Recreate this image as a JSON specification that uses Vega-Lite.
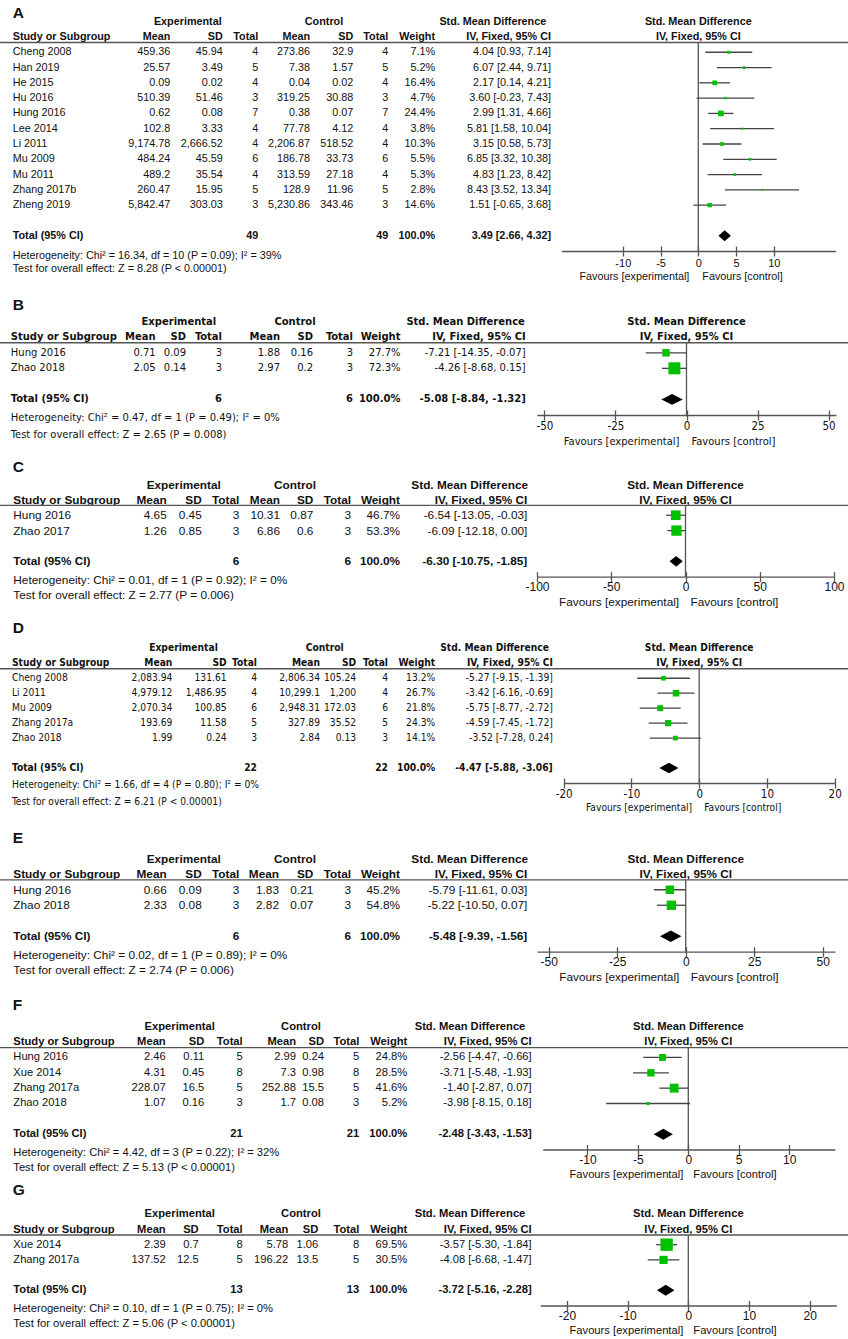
{
"$schema":"https://vega.github.io/schema/vega-lite/v6.json",
"width":848,"height":1339,"autosize":{"type":"none"},"padding":0,"background":"white",
"config":{"view":{"stroke":null},"text":{"baseline":"middle","align":"right","color":"#111"},
"style":{"tA":{"font":"Liberation Sans","fontSize":10.8},"tB":{"font":"DejaVu Sans Condensed, Liberation Sans Narrow, Liberation Sans","fontSize":11.1},"tD":{"font":"DejaVu Sans Condensed, Liberation Sans Narrow, Liberation Sans","fontSize":10.2},"tC":{"font":"Liberation Sans","fontSize":11.8},"tF":{"font":"Liberation Sans","fontSize":11.2},"let":{"font":"Liberation Sans","fontSize":15.5,"fontWeight":"bold"}}},
"datasets":{"rows":[
{"k":"head","r":"hdr2","s":"Study or Subgroup","em":"Mean","esd":"SD","et":"Total","cm":"Mean","csd":"SD","ct":"Total","w":"Weight","ci":"IV, Fixed, 95% CI","g1":"Experimental","g2":"Control","g3":"Std. Mean Difference","fe":"Favours [experimental]","fc":"Favours [control]"},
{"p":"A","k":"study","r":"Cheng 2008","s":"Cheng 2008","em":"459.36","esd":"45.94","et":"4","cm":"273.86","csd":"32.9","ct":"4","w":"7.1%","ci":"4.04 [0.93, 7.14]","smd":4.04,"lo":0.93,"hi":7.14,"wt":7.1},
{"p":"A","k":"study","r":"Han 2019","s":"Han 2019","em":"25.57","esd":"3.49","et":"5","cm":"7.38","csd":"1.57","ct":"5","w":"5.2%","ci":"6.07 [2.44, 9.71]","smd":6.07,"lo":2.44,"hi":9.71,"wt":5.2},
{"p":"A","k":"study","r":"He 2015","s":"He 2015","em":"0.09","esd":"0.02","et":"4","cm":"0.04","csd":"0.02","ct":"4","w":"16.4%","ci":"2.17 [0.14, 4.21]","smd":2.17,"lo":0.14,"hi":4.21,"wt":16.4},
{"p":"A","k":"study","r":"Hu 2016","s":"Hu 2016","em":"510.39","esd":"51.46","et":"3","cm":"319.25","csd":"30.88","ct":"3","w":"4.7%","ci":"3.60 [-0.23, 7.43]","smd":3.6,"lo":-0.23,"hi":7.43,"wt":4.7},
{"p":"A","k":"study","r":"Hung 2016","s":"Hung 2016","em":"0.62","esd":"0.08","et":"7","cm":"0.38","csd":"0.07","ct":"7","w":"24.4%","ci":"2.99 [1.31, 4.66]","smd":2.99,"lo":1.31,"hi":4.66,"wt":24.4},
{"p":"A","k":"study","r":"Lee 2014","s":"Lee 2014","em":"102.8","esd":"3.33","et":"4","cm":"77.78","csd":"4.12","ct":"4","w":"3.8%","ci":"5.81 [1.58, 10.04]","smd":5.81,"lo":1.58,"hi":10.04,"wt":3.8},
{"p":"A","k":"study","r":"Li 2011","s":"Li 2011","em":"9,174.78","esd":"2,666.52","et":"4","cm":"2,206.87","csd":"518.52","ct":"4","w":"10.3%","ci":"3.15 [0.58, 5.73]","smd":3.15,"lo":0.58,"hi":5.73,"wt":10.3},
{"p":"A","k":"study","r":"Mu 2009","s":"Mu 2009","em":"484.24","esd":"45.59","et":"6","cm":"186.78","csd":"33.73","ct":"6","w":"5.5%","ci":"6.85 [3.32, 10.38]","smd":6.85,"lo":3.32,"hi":10.38,"wt":5.5},
{"p":"A","k":"study","r":"Mu 2011","s":"Mu 2011","em":"489.2","esd":"35.54","et":"4","cm":"313.59","csd":"27.18","ct":"4","w":"5.3%","ci":"4.83 [1.23, 8.42]","smd":4.83,"lo":1.23,"hi":8.42,"wt":5.3},
{"p":"A","k":"study","r":"Zhang 2017b","s":"Zhang 2017b","em":"260.47","esd":"15.95","et":"5","cm":"128.9","csd":"11.96","ct":"5","w":"2.8%","ci":"8.43 [3.52, 13.34]","smd":8.43,"lo":3.52,"hi":13.34,"wt":2.8},
{"p":"A","k":"study","r":"Zheng 2019","s":"Zheng 2019","em":"5,842.47","esd":"303.03","et":"3","cm":"5,230.86","csd":"343.46","ct":"3","w":"14.6%","ci":"1.51 [-0.65, 3.68]","smd":1.51,"lo":-0.65,"hi":3.68,"wt":14.6},
{"p":"A","k":"total","r":"Total","s":"Total (95% CI)","em":"","esd":"","et":"49","cm":"","csd":"","ct":"49","w":"100.0%","ci":"3.49 [2.66, 4.32]","smd":3.49,"lo":2.66,"hi":4.32,"het":"Heterogeneity: Chi² = 16.34, df = 10 (P = 0.09); I² = 39%","test":"Test for overall effect: Z = 8.28 (P < 0.00001)"},
{"p":"B","k":"study","r":"Hung 2016","s":"Hung 2016","em":"0.71","esd":"0.09","et":"3","cm":"1.88","csd":"0.16","ct":"3","w":"27.7%","ci":"-7.21 [-14.35, -0.07]","smd":-7.21,"lo":-14.35,"hi":-0.07,"wt":27.7},
{"p":"B","k":"study","r":"Zhao 2018","s":"Zhao 2018","em":"2.05","esd":"0.14","et":"3","cm":"2.97","csd":"0.2","ct":"3","w":"72.3%","ci":"-4.26 [-8.68, 0.15]","smd":-4.26,"lo":-8.68,"hi":0.15,"wt":72.3},
{"p":"B","k":"total","r":"Total","s":"Total (95% CI)","em":"","esd":"","et":"6","cm":"","csd":"","ct":"6","w":"100.0%","ci":"-5.08 [-8.84, -1.32]","smd":-5.08,"lo":-8.84,"hi":-1.32,"het":"Heterogeneity: Chi² = 0.47, df = 1 (P = 0.49); I² = 0%","test":"Test for overall effect: Z = 2.65 (P = 0.008)"},
{"p":"C","k":"study","r":"Hung 2016","s":"Hung 2016","em":"4.65","esd":"0.45","et":"3","cm":"10.31","csd":"0.87","ct":"3","w":"46.7%","ci":"-6.54 [-13.05, -0.03]","smd":-6.54,"lo":-13.05,"hi":-0.03,"wt":46.7},
{"p":"C","k":"study","r":"Zhao 2017","s":"Zhao 2017","em":"1.26","esd":"0.85","et":"3","cm":"6.86","csd":"0.6","ct":"3","w":"53.3%","ci":"-6.09 [-12.18, 0.00]","smd":-6.09,"lo":-12.18,"hi":0.0,"wt":53.3},
{"p":"C","k":"total","r":"Total","s":"Total (95% CI)","em":"","esd":"","et":"6","cm":"","csd":"","ct":"6","w":"100.0%","ci":"-6.30 [-10.75, -1.85]","smd":-6.3,"lo":-10.75,"hi":-1.85,"het":"Heterogeneity: Chi² = 0.01, df = 1 (P = 0.92); I² = 0%","test":"Test for overall effect: Z = 2.77 (P = 0.006)"},
{"p":"D","k":"study","r":"Cheng 2008","s":"Cheng 2008","em":"2,083.94","esd":"131.61","et":"4","cm":"2,806.34","csd":"105.24","ct":"4","w":"13.2%","ci":"-5.27 [-9.15, -1.39]","smd":-5.27,"lo":-9.15,"hi":-1.39,"wt":13.2},
{"p":"D","k":"study","r":"Li 2011","s":"Li 2011","em":"4,979.12","esd":"1,486.95","et":"4","cm":"10,299.1","csd":"1,200","ct":"4","w":"26.7%","ci":"-3.42 [-6.16, -0.69]","smd":-3.42,"lo":-6.16,"hi":-0.69,"wt":26.7},
{"p":"D","k":"study","r":"Mu 2009","s":"Mu 2009","em":"2,070.34","esd":"100.85","et":"6","cm":"2,948.31","csd":"172.03","ct":"6","w":"21.8%","ci":"-5.75 [-8.77, -2.72]","smd":-5.75,"lo":-8.77,"hi":-2.72,"wt":21.8},
{"p":"D","k":"study","r":"Zhang 2017a","s":"Zhang 2017a","em":"193.69","esd":"11.58","et":"5","cm":"327.89","csd":"35.52","ct":"5","w":"24.3%","ci":"-4.59 [-7.45, -1.72]","smd":-4.59,"lo":-7.45,"hi":-1.72,"wt":24.3},
{"p":"D","k":"study","r":"Zhao 2018","s":"Zhao 2018","em":"1.99","esd":"0.24","et":"3","cm":"2.84","csd":"0.13","ct":"3","w":"14.1%","ci":"-3.52 [-7.28, 0.24]","smd":-3.52,"lo":-7.28,"hi":0.24,"wt":14.1},
{"p":"D","k":"total","r":"Total","s":"Total (95% CI)","em":"","esd":"","et":"22","cm":"","csd":"","ct":"22","w":"100.0%","ci":"-4.47 [-5.88, -3.06]","smd":-4.47,"lo":-5.88,"hi":-3.06,"het":"Heterogeneity: Chi² = 1.66, df = 4 (P = 0.80); I² = 0%","test":"Test for overall effect: Z = 6.21 (P < 0.00001)"},
{"p":"E","k":"study","r":"Hung 2016","s":"Hung 2016","em":"0.66","esd":"0.09","et":"3","cm":"1.83","csd":"0.21","ct":"3","w":"45.2%","ci":"-5.79 [-11.61, 0.03]","smd":-5.79,"lo":-11.61,"hi":0.03,"wt":45.2},
{"p":"E","k":"study","r":"Zhao 2018","s":"Zhao 2018","em":"2.33","esd":"0.08","et":"3","cm":"2.82","csd":"0.07","ct":"3","w":"54.8%","ci":"-5.22 [-10.50, 0.07]","smd":-5.22,"lo":-10.5,"hi":0.07,"wt":54.8},
{"p":"E","k":"total","r":"Total","s":"Total (95% CI)","em":"","esd":"","et":"6","cm":"","csd":"","ct":"6","w":"100.0%","ci":"-5.48 [-9.39, -1.56]","smd":-5.48,"lo":-9.39,"hi":-1.56,"het":"Heterogeneity: Chi² = 0.02, df = 1 (P = 0.89); I² = 0%","test":"Test for overall effect: Z = 2.74 (P = 0.006)"},
{"p":"F","k":"study","r":"Hung 2016","s":"Hung 2016","em":"2.46","esd":"0.11","et":"5","cm":"2.99","csd":"0.24","ct":"5","w":"24.8%","ci":"-2.56 [-4.47, -0.66]","smd":-2.56,"lo":-4.47,"hi":-0.66,"wt":24.8},
{"p":"F","k":"study","r":"Xue 2014","s":"Xue 2014","em":"4.31","esd":"0.45","et":"8","cm":"7.3","csd":"0.98","ct":"8","w":"28.5%","ci":"-3.71 [-5.48, -1.93]","smd":-3.71,"lo":-5.48,"hi":-1.93,"wt":28.5},
{"p":"F","k":"study","r":"Zhang 2017a","s":"Zhang 2017a","em":"228.07","esd":"16.5","et":"5","cm":"252.88","csd":"15.5","ct":"5","w":"41.6%","ci":"-1.40 [-2.87, 0.07]","smd":-1.4,"lo":-2.87,"hi":0.07,"wt":41.6},
{"p":"F","k":"study","r":"Zhao 2018","s":"Zhao 2018","em":"1.07","esd":"0.16","et":"3","cm":"1.7","csd":"0.08","ct":"3","w":"5.2%","ci":"-3.98 [-8.15, 0.18]","smd":-3.98,"lo":-8.15,"hi":0.18,"wt":5.2},
{"p":"F","k":"total","r":"Total","s":"Total (95% CI)","em":"","esd":"","et":"21","cm":"","csd":"","ct":"21","w":"100.0%","ci":"-2.48 [-3.43, -1.53]","smd":-2.48,"lo":-3.43,"hi":-1.53,"het":"Heterogeneity: Chi² = 4.42, df = 3 (P = 0.22); I² = 32%","test":"Test for overall effect: Z = 5.13 (P < 0.00001)"},
{"p":"G","k":"study","r":"Xue 2014","s":"Xue 2014","em":"2.39","esd":"0.7","et":"8","cm":"5.78","csd":"1.06","ct":"8","w":"69.5%","ci":"-3.57 [-5.30, -1.84]","smd":-3.57,"lo":-5.3,"hi":-1.84,"wt":69.5},
{"p":"G","k":"study","r":"Zhang 2017a","s":"Zhang 2017a","em":"137.52","esd":"12.5","et":"5","cm":"196.22","csd":"13.5","ct":"5","w":"30.5%","ci":"-4.08 [-6.68, -1.47]","smd":-4.08,"lo":-6.68,"hi":-1.47,"wt":30.5},
{"p":"G","k":"total","r":"Total","s":"Total (95% CI)","em":"","esd":"","et":"13","cm":"","csd":"","ct":"13","w":"100.0%","ci":"-3.72 [-5.16, -2.28]","smd":-3.72,"lo":-5.16,"hi":-2.28,"het":"Heterogeneity: Chi² = 0.10, df = 1 (P = 0.75); I² = 0%","test":"Test for overall effect: Z = 5.06 (P < 0.00001)"}
]},
"layer":[
{"data":{"name":"rows"},"transform":[{"filter":"datum.p=='A'||datum.k=='head'"}],
"encoding":{"y":{"field":"r","type":"nominal","axis":null,"scale":{"type":"point","padding":0,"range":[21.7,251],"domain":["hdr1","hdr2","Cheng 2008","Han 2019","He 2015","Hu 2016","Hung 2016","Lee 2014","Li 2011","Mu 2009","Mu 2011","Zhang 2017b","Zheng 2019","blank","Total","axis"]}}},
"resolve":{"axis":{"x":"independent"}},
"layer":[
{"mark":{"type":"text","style":"tA","align":"left","fontWeight":{"expr":"datum.k=='study'?'normal':'bold'"}},"encoding":{"x":{"value":12.7},"text":{"field":"s"}}},
{"mark":{"type":"text","style":"tA","fontWeight":{"expr":"datum.k=='study'?'normal':'bold'"}},"encoding":{"x":{"value":170.3},"text":{"field":"em"}}},
{"mark":{"type":"text","style":"tA","fontWeight":{"expr":"datum.k=='study'?'normal':'bold'"}},"encoding":{"x":{"value":222.7},"text":{"field":"esd"}}},
{"mark":{"type":"text","style":"tA","fontWeight":{"expr":"datum.k=='study'?'normal':'bold'"}},"encoding":{"x":{"value":258.3},"text":{"field":"et"}}},
{"mark":{"type":"text","style":"tA","fontWeight":{"expr":"datum.k=='study'?'normal':'bold'"}},"encoding":{"x":{"value":310},"text":{"field":"cm"}}},
{"mark":{"type":"text","style":"tA","fontWeight":{"expr":"datum.k=='study'?'normal':'bold'"}},"encoding":{"x":{"value":353.3},"text":{"field":"csd"}}},
{"mark":{"type":"text","style":"tA","fontWeight":{"expr":"datum.k=='study'?'normal':'bold'"}},"encoding":{"x":{"value":388.3},"text":{"field":"ct"}}},
{"mark":{"type":"text","style":"tA","fontWeight":{"expr":"datum.k=='study'?'normal':'bold'"}},"encoding":{"x":{"value":435},"text":{"field":"w"}}},
{"mark":{"type":"text","style":"tA","fontWeight":{"expr":"datum.k=='study'?'normal':'bold'"}},"encoding":{"x":{"value":551},"text":{"field":"ci"}}},
{"transform":[{"filter":"datum.k=='head'"}],"mark":{"type":"text","style":"tA","align":"center","fontWeight":"bold"},"encoding":{"x":{"value":187.8},"y":{"datum":"hdr1","type":"nominal"},"text":{"field":"g1"}}},
{"transform":[{"filter":"datum.k=='head'"}],"mark":{"type":"text","style":"tA","align":"center","fontWeight":"bold"},"encoding":{"x":{"value":324},"y":{"datum":"hdr1","type":"nominal"},"text":{"field":"g2"}}},
{"transform":[{"filter":"datum.k=='head'"}],"mark":{"type":"text","style":"tA","align":"center","fontWeight":"bold"},"encoding":{"x":{"value":492.8},"y":{"datum":"hdr1","type":"nominal"},"text":{"field":"g3"}}},
{"transform":[{"filter":"datum.k=='head'"}],"mark":{"type":"text","style":"tA","align":"center","fontWeight":"bold"},"encoding":{"x":{"datum":0,"type":"quantitative","axis":null},"y":{"datum":"hdr1","type":"nominal"},"text":{"field":"g3"}}},
{"transform":[{"filter":"datum.k=='head'"}],"mark":{"type":"text","style":"tA","align":"center","fontWeight":"bold"},"encoding":{"x":{"datum":0,"type":"quantitative","axis":null},"y":{"datum":"hdr2","type":"nominal"},"text":{"field":"ci"}}},
{"transform":[{"filter":"datum.k=='head'"}],"mark":{"type":"text","style":"tA","align":"right","dx":-9,"dy":25.5},"encoding":{"x":{"datum":0,"type":"quantitative","axis":null},"y":{"datum":"axis","type":"nominal"},"text":{"field":"fe"}}},
{"transform":[{"filter":"datum.k=='head'"}],"mark":{"type":"text","style":"tA","align":"left","dx":4,"dy":25.5},"encoding":{"x":{"datum":0,"type":"quantitative","axis":null},"y":{"datum":"axis","type":"nominal"},"text":{"field":"fc"}}},
{"transform":[{"filter":"datum.k=='total'"}],"mark":{"type":"text","style":"tA","align":"left","dy":4.7},"encoding":{"x":{"value":12.7},"y":{"datum":"axis","type":"nominal"},"text":{"field":"het"}}},
{"transform":[{"filter":"datum.k=='total'"}],"mark":{"type":"text","style":"tA","align":"left","dy":18},"encoding":{"x":{"value":12.7},"y":{"datum":"axis","type":"nominal"},"text":{"field":"test"}}},
{"transform":[{"filter":"datum.k=='total'"}],"mark":{"type":"text","style":"let","align":"left","dy":-8.4},"encoding":{"x":{"value":12.7},"y":{"datum":"hdr1","type":"nominal"},"text":{"field":"p"}}},
{"transform":[{"filter":"datum.k=='total'"}],"mark":{"type":"rule","color":"#555","strokeWidth":1.3,"yOffset":5.5},"encoding":{"y":{"datum":"hdr2","type":"nominal"}}},
{"transform":[{"filter":"datum.k=='total'"}],"mark":{"type":"rule","color":"#555","strokeWidth":1.3,"yOffset":5.5},"encoding":{"x":{"datum":0,"type":"quantitative","axis":null},"y":{"datum":"hdr2","type":"nominal"},"y2":{"datum":"axis"}}},
{"transform":[{"filter":"datum.k=='study'"}],"mark":{"type":"rule","color":"#444","strokeWidth":1.3},"encoding":{"x":{"field":"lo","type":"quantitative","scale":{"domain":[-18.15,18.15],"range":[561.3,835.3],"nice":false,"zero":false},"axis":{"orient":"bottom","offset":-1088,"values":[-10,-5,0,5,10],"title":null,"grid":false,"domainColor":"#555","domainWidth":1.3,"tickColor":"#555","tickWidth":1.3,"tickSize":5,"labelFont":"Liberation Sans","labelFontSize":11,"labelColor":"#111","labelPadding":1,"labelExpr":"''+datum.value","labelFlush":false,"labelOverlap":false}},"x2":{"field":"hi"}}},
{"transform":[{"filter":"datum.k=='study'"}],"mark":{"type":"point","shape":"square","filled":true,"color":"#00c000","opacity":1},"encoding":{"x":{"field":"smd","type":"quantitative","axis":{"orient":"bottom","offset":-1093,"values":[-10,-5,0,5,10],"title":null,"grid":false,"domain":false,"labels":false,"tickColor":"#555","tickWidth":1.3,"tickSize":5}},"size":{"field":"wt","type":"quantitative","legend":null,"scale":{"domain":[0,100],"range":[0,130]}}}},
{"transform":[{"filter":"datum.k=='total'"}],"mark":{"type":"point","shape":"M-1,0L0,-0.88L1,0L0,0.88Z","filled":true,"color":"black","opacity":1,"size":157},"encoding":{"x":{"field":"smd","type":"quantitative","axis":null}}}
]},
{"data":{"name":"rows"},"transform":[{"filter":"datum.p=='B'||datum.k=='head'"}],
"encoding":{"y":{"field":"r","type":"nominal","axis":null,"scale":{"type":"point","padding":0,"range":[321.7,415],"domain":["hdr1","hdr2","Hung 2016","Zhao 2018","blank","Total","axis"]}}},
"resolve":{"axis":{"x":"independent"}},
"layer":[
{"mark":{"type":"text","style":"tB","align":"left","fontWeight":{"expr":"datum.k=='study'?'normal':'bold'"}},"encoding":{"x":{"value":10.8},"text":{"field":"s"}}},
{"mark":{"type":"text","style":"tB","fontWeight":{"expr":"datum.k=='study'?'normal':'bold'"}},"encoding":{"x":{"value":155.6},"text":{"field":"em"}}},
{"mark":{"type":"text","style":"tB","fontWeight":{"expr":"datum.k=='study'?'normal':'bold'"}},"encoding":{"x":{"value":186},"text":{"field":"esd"}}},
{"mark":{"type":"text","style":"tB","fontWeight":{"expr":"datum.k=='study'?'normal':'bold'"}},"encoding":{"x":{"value":222},"text":{"field":"et"}}},
{"mark":{"type":"text","style":"tB","fontWeight":{"expr":"datum.k=='study'?'normal':'bold'"}},"encoding":{"x":{"value":280},"text":{"field":"cm"}}},
{"mark":{"type":"text","style":"tB","fontWeight":{"expr":"datum.k=='study'?'normal':'bold'"}},"encoding":{"x":{"value":313},"text":{"field":"csd"}}},
{"mark":{"type":"text","style":"tB","fontWeight":{"expr":"datum.k=='study'?'normal':'bold'"}},"encoding":{"x":{"value":353},"text":{"field":"ct"}}},
{"mark":{"type":"text","style":"tB","fontWeight":{"expr":"datum.k=='study'?'normal':'bold'"}},"encoding":{"x":{"value":400.5},"text":{"field":"w"}}},
{"mark":{"type":"text","style":"tB","fontWeight":{"expr":"datum.k=='study'?'normal':'bold'"}},"encoding":{"x":{"value":525.7},"text":{"field":"ci"}}},
{"transform":[{"filter":"datum.k=='head'"}],"mark":{"type":"text","style":"tB","align":"center","fontWeight":"bold"},"encoding":{"x":{"value":178.9},"y":{"datum":"hdr1","type":"nominal"},"text":{"field":"g1"}}},
{"transform":[{"filter":"datum.k=='head'"}],"mark":{"type":"text","style":"tB","align":"center","fontWeight":"bold"},"encoding":{"x":{"value":295},"y":{"datum":"hdr1","type":"nominal"},"text":{"field":"g2"}}},
{"transform":[{"filter":"datum.k=='head'"}],"mark":{"type":"text","style":"tB","align":"center","fontWeight":"bold"},"encoding":{"x":{"value":465.6},"y":{"datum":"hdr1","type":"nominal"},"text":{"field":"g3"}}},
{"transform":[{"filter":"datum.k=='head'"}],"mark":{"type":"text","style":"tB","align":"center","fontWeight":"bold"},"encoding":{"x":{"datum":0,"type":"quantitative","axis":null},"y":{"datum":"hdr1","type":"nominal"},"text":{"field":"g3"}}},
{"transform":[{"filter":"datum.k=='head'"}],"mark":{"type":"text","style":"tB","align":"center","fontWeight":"bold"},"encoding":{"x":{"datum":0,"type":"quantitative","axis":null},"y":{"datum":"hdr2","type":"nominal"},"text":{"field":"ci"}}},
{"transform":[{"filter":"datum.k=='head'"}],"mark":{"type":"text","style":"tB","align":"right","dx":-7,"dy":26.5},"encoding":{"x":{"datum":0,"type":"quantitative","axis":null},"y":{"datum":"axis","type":"nominal"},"text":{"field":"fe"}}},
{"transform":[{"filter":"datum.k=='head'"}],"mark":{"type":"text","style":"tB","align":"left","dx":5,"dy":26.5},"encoding":{"x":{"datum":0,"type":"quantitative","axis":null},"y":{"datum":"axis","type":"nominal"},"text":{"field":"fc"}}},
{"transform":[{"filter":"datum.k=='total'"}],"mark":{"type":"text","style":"tB","align":"left","dy":3.3},"encoding":{"x":{"value":10.8},"y":{"datum":"axis","type":"nominal"},"text":{"field":"het"}}},
{"transform":[{"filter":"datum.k=='total'"}],"mark":{"type":"text","style":"tB","align":"left","dy":19.5},"encoding":{"x":{"value":10.8},"y":{"datum":"axis","type":"nominal"},"text":{"field":"test"}}},
{"transform":[{"filter":"datum.k=='total'"}],"mark":{"type":"text","style":"let","align":"left","dy":-16.7},"encoding":{"x":{"value":12.7},"y":{"datum":"hdr1","type":"nominal"},"text":{"field":"p"}}},
{"transform":[{"filter":"datum.k=='total'"}],"mark":{"type":"rule","color":"#555","strokeWidth":1.3,"yOffset":5.5},"encoding":{"y":{"datum":"hdr2","type":"nominal"}}},
{"transform":[{"filter":"datum.k=='total'"}],"mark":{"type":"rule","color":"#555","strokeWidth":1.3,"yOffset":5.5},"encoding":{"x":{"datum":0,"type":"quantitative","axis":null},"y":{"datum":"hdr2","type":"nominal"},"y2":{"datum":"axis"}}},
{"transform":[{"filter":"datum.k=='study'"}],"mark":{"type":"rule","color":"#444","strokeWidth":1.3},"encoding":{"x":{"field":"lo","type":"quantitative","scale":{"domain":[-52.6,52.6],"range":[537,836],"nice":false,"zero":false},"axis":{"orient":"bottom","offset":-924,"values":[-50,-25,0,25,50],"title":null,"grid":false,"domainColor":"#555","domainWidth":1.3,"tickColor":"#555","tickWidth":1.3,"tickSize":5,"labelFont":"DejaVu Sans Condensed, Liberation Sans","labelFontSize":11.5,"labelColor":"#111","labelPadding":0,"labelExpr":"''+datum.value","labelFlush":false,"labelOverlap":false}},"x2":{"field":"hi"}}},
{"transform":[{"filter":"datum.k=='study'"}],"mark":{"type":"point","shape":"square","filled":true,"color":"#00c000","opacity":1},"encoding":{"x":{"field":"smd","type":"quantitative","axis":{"orient":"bottom","offset":-929,"values":[-50,-25,0,25,50],"title":null,"grid":false,"domain":false,"labels":false,"tickColor":"#555","tickWidth":1.3,"tickSize":5}},"size":{"field":"wt","type":"quantitative","legend":null,"scale":{"domain":[0,100],"range":[0,200]}}}},
{"transform":[{"filter":"datum.k=='total'"}],"mark":{"type":"point","shape":"M-1,0L0,-0.5L1,0L0,0.5Z","filled":true,"color":"black","opacity":1,"size":458},"encoding":{"x":{"field":"smd","type":"quantitative","axis":null}}}
]},
{"data":{"name":"rows"},"transform":[{"filter":"datum.p=='C'||datum.k=='head'"}],
"encoding":{"y":{"field":"r","type":"nominal","axis":null,"scale":{"type":"point","padding":0,"range":[484.5,576.7],"domain":["hdr1","hdr2","Hung 2016","Zhao 2017","blank","Total","axis"]}}},
"resolve":{"axis":{"x":"independent"}},
"layer":[
{"mark":{"type":"text","style":"tC","align":"left","fontWeight":{"expr":"datum.k=='study'?'normal':'bold'"}},"encoding":{"x":{"value":13.3},"text":{"field":"s"}}},
{"mark":{"type":"text","style":"tC","fontWeight":{"expr":"datum.k=='study'?'normal':'bold'"}},"encoding":{"x":{"value":166.7},"text":{"field":"em"}}},
{"mark":{"type":"text","style":"tC","fontWeight":{"expr":"datum.k=='study'?'normal':'bold'"}},"encoding":{"x":{"value":201.7},"text":{"field":"esd"}}},
{"mark":{"type":"text","style":"tC","fontWeight":{"expr":"datum.k=='study'?'normal':'bold'"}},"encoding":{"x":{"value":239.3},"text":{"field":"et"}}},
{"mark":{"type":"text","style":"tC","fontWeight":{"expr":"datum.k=='study'?'normal':'bold'"}},"encoding":{"x":{"value":280},"text":{"field":"cm"}}},
{"mark":{"type":"text","style":"tC","fontWeight":{"expr":"datum.k=='study'?'normal':'bold'"}},"encoding":{"x":{"value":313.3},"text":{"field":"csd"}}},
{"mark":{"type":"text","style":"tC","fontWeight":{"expr":"datum.k=='study'?'normal':'bold'"}},"encoding":{"x":{"value":351},"text":{"field":"ct"}}},
{"mark":{"type":"text","style":"tC","fontWeight":{"expr":"datum.k=='study'?'normal':'bold'"}},"encoding":{"x":{"value":400},"text":{"field":"w"}}},
{"mark":{"type":"text","style":"tC","fontWeight":{"expr":"datum.k=='study'?'normal':'bold'"}},"encoding":{"x":{"value":527.3},"text":{"field":"ci"}}},
{"transform":[{"filter":"datum.k=='head'"}],"mark":{"type":"text","style":"tC","align":"center","fontWeight":"bold"},"encoding":{"x":{"value":183.7},"y":{"datum":"hdr1","type":"nominal"},"text":{"field":"g1"}}},
{"transform":[{"filter":"datum.k=='head'"}],"mark":{"type":"text","style":"tC","align":"center","fontWeight":"bold"},"encoding":{"x":{"value":295},"y":{"datum":"hdr1","type":"nominal"},"text":{"field":"g2"}}},
{"transform":[{"filter":"datum.k=='head'"}],"mark":{"type":"text","style":"tC","align":"center","fontWeight":"bold"},"encoding":{"x":{"value":469.7},"y":{"datum":"hdr1","type":"nominal"},"text":{"field":"g3"}}},
{"transform":[{"filter":"datum.k=='head'"}],"mark":{"type":"text","style":"tC","align":"center","fontWeight":"bold"},"encoding":{"x":{"datum":0,"type":"quantitative","axis":null},"y":{"datum":"hdr1","type":"nominal"},"text":{"field":"g3"}}},
{"transform":[{"filter":"datum.k=='head'"}],"mark":{"type":"text","style":"tC","align":"center","fontWeight":"bold"},"encoding":{"x":{"datum":0,"type":"quantitative","axis":null},"y":{"datum":"hdr2","type":"nominal"},"text":{"field":"ci"}}},
{"transform":[{"filter":"datum.k=='head'"}],"mark":{"type":"text","style":"tC","align":"right","dx":-6.4,"dy":25},"encoding":{"x":{"datum":0,"type":"quantitative","axis":null},"y":{"datum":"axis","type":"nominal"},"text":{"field":"fe"}}},
{"transform":[{"filter":"datum.k=='head'"}],"mark":{"type":"text","style":"tC","align":"left","dx":5,"dy":25},"encoding":{"x":{"datum":0,"type":"quantitative","axis":null},"y":{"datum":"axis","type":"nominal"},"text":{"field":"fc"}}},
{"transform":[{"filter":"datum.k=='total'"}],"mark":{"type":"text","style":"tC","align":"left","dy":3.3},"encoding":{"x":{"value":13.3},"y":{"datum":"axis","type":"nominal"},"text":{"field":"het"}}},
{"transform":[{"filter":"datum.k=='total'"}],"mark":{"type":"text","style":"tC","align":"left","dy":18.3},"encoding":{"x":{"value":13.3},"y":{"datum":"axis","type":"nominal"},"text":{"field":"test"}}},
{"transform":[{"filter":"datum.k=='total'"}],"mark":{"type":"text","style":"let","align":"left","dy":-17.8},"encoding":{"x":{"value":12.7},"y":{"datum":"hdr1","type":"nominal"},"text":{"field":"p"}}},
{"transform":[{"filter":"datum.k=='total'"}],"mark":{"type":"rule","color":"#555","strokeWidth":1.3,"yOffset":5.5},"encoding":{"y":{"datum":"hdr2","type":"nominal"}}},
{"transform":[{"filter":"datum.k=='total'"}],"mark":{"type":"rule","color":"#555","strokeWidth":1.3,"yOffset":5.5},"encoding":{"x":{"datum":0,"type":"quantitative","axis":null},"y":{"datum":"hdr2","type":"nominal"},"y2":{"datum":"axis"}}},
{"transform":[{"filter":"datum.k=='study'"}],"mark":{"type":"rule","color":"#444","strokeWidth":1.3},"encoding":{"x":{"field":"lo","type":"quantitative","scale":{"domain":[-100,100],"range":[537,834],"nice":false,"zero":false},"axis":{"orient":"bottom","offset":-762.3,"values":[-100,-50,0,50,100],"title":null,"grid":false,"domainColor":"#555","domainWidth":1.3,"tickColor":"#555","tickWidth":1.3,"tickSize":5,"labelFont":"Liberation Sans","labelFontSize":12,"labelColor":"#111","labelPadding":0,"labelExpr":"''+datum.value","labelFlush":false,"labelOverlap":false}},"x2":{"field":"hi"}}},
{"transform":[{"filter":"datum.k=='study'"}],"mark":{"type":"point","shape":"square","filled":true,"color":"#00c000","opacity":1},"encoding":{"x":{"field":"smd","type":"quantitative","axis":{"orient":"bottom","offset":-767.3,"values":[-100,-50,0,50,100],"title":null,"grid":false,"domain":false,"labels":false,"tickColor":"#555","tickWidth":1.3,"tickSize":5}},"size":{"field":"wt","type":"quantitative","legend":null,"scale":{"domain":[0,100],"range":[0,200]}}}},
{"transform":[{"filter":"datum.k=='total'"}],"mark":{"type":"point","shape":"M-1,0L0,-0.81L1,0L0,0.81Z","filled":true,"color":"black","opacity":1,"size":174},"encoding":{"x":{"field":"smd","type":"quantitative","axis":null}}}
]},
{"data":{"name":"rows"},"transform":[{"filter":"datum.p=='D'||datum.k=='head'"}],
"encoding":{"y":{"field":"r","type":"nominal","axis":null,"scale":{"type":"point","padding":0,"range":[648.3,783],"domain":["hdr1","hdr2","Cheng 2008","Li 2011","Mu 2009","Zhang 2017a","Zhao 2018","blank","Total","axis"]}}},
"resolve":{"axis":{"x":"independent"}},
"layer":[
{"mark":{"type":"text","style":"tD","align":"left","fontWeight":{"expr":"datum.k=='study'?'normal':'bold'"}},"encoding":{"x":{"value":12},"text":{"field":"s"}}},
{"mark":{"type":"text","style":"tD","fontWeight":{"expr":"datum.k=='study'?'normal':'bold'"}},"encoding":{"x":{"value":172.4},"text":{"field":"em"}}},
{"mark":{"type":"text","style":"tD","fontWeight":{"expr":"datum.k=='study'?'normal':'bold'"}},"encoding":{"x":{"value":226.6},"text":{"field":"esd"}}},
{"mark":{"type":"text","style":"tD","fontWeight":{"expr":"datum.k=='study'?'normal':'bold'"}},"encoding":{"x":{"value":257},"text":{"field":"et"}}},
{"mark":{"type":"text","style":"tD","fontWeight":{"expr":"datum.k=='study'?'normal':'bold'"}},"encoding":{"x":{"value":320},"text":{"field":"cm"}}},
{"mark":{"type":"text","style":"tD","fontWeight":{"expr":"datum.k=='study'?'normal':'bold'"}},"encoding":{"x":{"value":356.1},"text":{"field":"csd"}}},
{"mark":{"type":"text","style":"tD","fontWeight":{"expr":"datum.k=='study'?'normal':'bold'"}},"encoding":{"x":{"value":388},"text":{"field":"ct"}}},
{"mark":{"type":"text","style":"tD","fontWeight":{"expr":"datum.k=='study'?'normal':'bold'"}},"encoding":{"x":{"value":435.2},"text":{"field":"w"}}},
{"mark":{"type":"text","style":"tD","fontWeight":{"expr":"datum.k=='study'?'normal':'bold'"}},"encoding":{"x":{"value":552.8},"text":{"field":"ci"}}},
{"transform":[{"filter":"datum.k=='head'"}],"mark":{"type":"text","style":"tD","align":"center","fontWeight":"bold"},"encoding":{"x":{"value":183.5},"y":{"datum":"hdr1","type":"nominal"},"text":{"field":"g1"}}},
{"transform":[{"filter":"datum.k=='head'"}],"mark":{"type":"text","style":"tD","align":"center","fontWeight":"bold"},"encoding":{"x":{"value":324.7},"y":{"datum":"hdr1","type":"nominal"},"text":{"field":"g2"}}},
{"transform":[{"filter":"datum.k=='head'"}],"mark":{"type":"text","style":"tD","align":"center","fontWeight":"bold"},"encoding":{"x":{"value":494.6},"y":{"datum":"hdr1","type":"nominal"},"text":{"field":"g3"}}},
{"transform":[{"filter":"datum.k=='head'"}],"mark":{"type":"text","style":"tD","align":"center","fontWeight":"bold"},"encoding":{"x":{"datum":0,"type":"quantitative","axis":null},"y":{"datum":"hdr1","type":"nominal"},"text":{"field":"g3"}}},
{"transform":[{"filter":"datum.k=='head'"}],"mark":{"type":"text","style":"tD","align":"center","fontWeight":"bold"},"encoding":{"x":{"datum":0,"type":"quantitative","axis":null},"y":{"datum":"hdr2","type":"nominal"},"text":{"field":"ci"}}},
{"transform":[{"filter":"datum.k=='head'"}],"mark":{"type":"text","style":"tD","align":"right","dx":-7,"dy":25.3},"encoding":{"x":{"datum":0,"type":"quantitative","axis":null},"y":{"datum":"axis","type":"nominal"},"text":{"field":"fe"}}},
{"transform":[{"filter":"datum.k=='head'"}],"mark":{"type":"text","style":"tD","align":"left","dx":5,"dy":25.3},"encoding":{"x":{"datum":0,"type":"quantitative","axis":null},"y":{"datum":"axis","type":"nominal"},"text":{"field":"fc"}}},
{"transform":[{"filter":"datum.k=='total'"}],"mark":{"type":"text","style":"tD","align":"left","dy":2},"encoding":{"x":{"value":12},"y":{"datum":"axis","type":"nominal"},"text":{"field":"het"}}},
{"transform":[{"filter":"datum.k=='total'"}],"mark":{"type":"text","style":"tD","align":"left","dy":19},"encoding":{"x":{"value":12},"y":{"datum":"axis","type":"nominal"},"text":{"field":"test"}}},
{"transform":[{"filter":"datum.k=='total'"}],"mark":{"type":"text","style":"let","align":"left","dy":-20.3},"encoding":{"x":{"value":12.7},"y":{"datum":"hdr1","type":"nominal"},"text":{"field":"p"}}},
{"transform":[{"filter":"datum.k=='total'"}],"mark":{"type":"rule","color":"#555","strokeWidth":1.3,"yOffset":5.5},"encoding":{"y":{"datum":"hdr2","type":"nominal"}}},
{"transform":[{"filter":"datum.k=='total'"}],"mark":{"type":"rule","color":"#555","strokeWidth":1.3,"yOffset":5.5},"encoding":{"x":{"datum":0,"type":"quantitative","axis":null},"y":{"datum":"hdr2","type":"nominal"},"y2":{"datum":"axis"}}},
{"transform":[{"filter":"datum.k=='study'"}],"mark":{"type":"rule","color":"#444","strokeWidth":1.3},"encoding":{"x":{"field":"lo","type":"quantitative","scale":{"domain":[-20,20],"range":[563.7,834.7],"nice":false,"zero":false},"axis":{"orient":"bottom","offset":-556,"values":[-20,-10,0,10,20],"title":null,"grid":false,"domainColor":"#555","domainWidth":1.3,"tickColor":"#555","tickWidth":1.3,"tickSize":5,"labelFont":"DejaVu Sans Condensed, Liberation Sans","labelFontSize":11.5,"labelColor":"#111","labelPadding":0,"labelExpr":"''+datum.value","labelFlush":false,"labelOverlap":false}},"x2":{"field":"hi"}}},
{"transform":[{"filter":"datum.k=='study'"}],"mark":{"type":"point","shape":"square","filled":true,"color":"#00c000","opacity":1},"encoding":{"x":{"field":"smd","type":"quantitative","axis":{"orient":"bottom","offset":-561,"values":[-20,-10,0,10,20],"title":null,"grid":false,"domain":false,"labels":false,"tickColor":"#555","tickWidth":1.3,"tickSize":5}},"size":{"field":"wt","type":"quantitative","legend":null,"scale":{"domain":[0,100],"range":[0,160]}}}},
{"transform":[{"filter":"datum.k=='total'"}],"mark":{"type":"point","shape":"M-1,0L0,-0.55L1,0L0,0.55Z","filled":true,"color":"black","opacity":1,"size":365},"encoding":{"x":{"field":"smd","type":"quantitative","axis":null}}}
]},
{"data":{"name":"rows"},"transform":[{"filter":"datum.p=='E'||datum.k=='head'"}],
"encoding":{"y":{"field":"r","type":"nominal","axis":null,"scale":{"type":"point","padding":0,"range":[858.8,951.7],"domain":["hdr1","hdr2","Hung 2016","Zhao 2018","blank","Total","axis"]}}},
"resolve":{"axis":{"x":"independent"}},
"layer":[
{"mark":{"type":"text","style":"tC","align":"left","fontWeight":{"expr":"datum.k=='study'?'normal':'bold'"}},"encoding":{"x":{"value":13.3},"text":{"field":"s"}}},
{"mark":{"type":"text","style":"tC","fontWeight":{"expr":"datum.k=='study'?'normal':'bold'"}},"encoding":{"x":{"value":166.7},"text":{"field":"em"}}},
{"mark":{"type":"text","style":"tC","fontWeight":{"expr":"datum.k=='study'?'normal':'bold'"}},"encoding":{"x":{"value":201.7},"text":{"field":"esd"}}},
{"mark":{"type":"text","style":"tC","fontWeight":{"expr":"datum.k=='study'?'normal':'bold'"}},"encoding":{"x":{"value":239.3},"text":{"field":"et"}}},
{"mark":{"type":"text","style":"tC","fontWeight":{"expr":"datum.k=='study'?'normal':'bold'"}},"encoding":{"x":{"value":279},"text":{"field":"cm"}}},
{"mark":{"type":"text","style":"tC","fontWeight":{"expr":"datum.k=='study'?'normal':'bold'"}},"encoding":{"x":{"value":313.3},"text":{"field":"csd"}}},
{"mark":{"type":"text","style":"tC","fontWeight":{"expr":"datum.k=='study'?'normal':'bold'"}},"encoding":{"x":{"value":351},"text":{"field":"ct"}}},
{"mark":{"type":"text","style":"tC","fontWeight":{"expr":"datum.k=='study'?'normal':'bold'"}},"encoding":{"x":{"value":400},"text":{"field":"w"}}},
{"mark":{"type":"text","style":"tC","fontWeight":{"expr":"datum.k=='study'?'normal':'bold'"}},"encoding":{"x":{"value":527.3},"text":{"field":"ci"}}},
{"transform":[{"filter":"datum.k=='head'"}],"mark":{"type":"text","style":"tC","align":"center","fontWeight":"bold"},"encoding":{"x":{"value":183.7},"y":{"datum":"hdr1","type":"nominal"},"text":{"field":"g1"}}},
{"transform":[{"filter":"datum.k=='head'"}],"mark":{"type":"text","style":"tC","align":"center","fontWeight":"bold"},"encoding":{"x":{"value":295},"y":{"datum":"hdr1","type":"nominal"},"text":{"field":"g2"}}},
{"transform":[{"filter":"datum.k=='head'"}],"mark":{"type":"text","style":"tC","align":"center","fontWeight":"bold"},"encoding":{"x":{"value":469.7},"y":{"datum":"hdr1","type":"nominal"},"text":{"field":"g3"}}},
{"transform":[{"filter":"datum.k=='head'"}],"mark":{"type":"text","style":"tC","align":"center","fontWeight":"bold"},"encoding":{"x":{"datum":0,"type":"quantitative","axis":null},"y":{"datum":"hdr1","type":"nominal"},"text":{"field":"g3"}}},
{"transform":[{"filter":"datum.k=='head'"}],"mark":{"type":"text","style":"tC","align":"center","fontWeight":"bold"},"encoding":{"x":{"datum":0,"type":"quantitative","axis":null},"y":{"datum":"hdr2","type":"nominal"},"text":{"field":"ci"}}},
{"transform":[{"filter":"datum.k=='head'"}],"mark":{"type":"text","style":"tC","align":"right","dx":-6.4,"dy":25},"encoding":{"x":{"datum":0,"type":"quantitative","axis":null},"y":{"datum":"axis","type":"nominal"},"text":{"field":"fe"}}},
{"transform":[{"filter":"datum.k=='head'"}],"mark":{"type":"text","style":"tC","align":"left","dx":5,"dy":25},"encoding":{"x":{"datum":0,"type":"quantitative","axis":null},"y":{"datum":"axis","type":"nominal"},"text":{"field":"fc"}}},
{"transform":[{"filter":"datum.k=='total'"}],"mark":{"type":"text","style":"tC","align":"left","dy":3.3},"encoding":{"x":{"value":13.3},"y":{"datum":"axis","type":"nominal"},"text":{"field":"het"}}},
{"transform":[{"filter":"datum.k=='total'"}],"mark":{"type":"text","style":"tC","align":"left","dy":18.3},"encoding":{"x":{"value":13.3},"y":{"datum":"axis","type":"nominal"},"text":{"field":"test"}}},
{"transform":[{"filter":"datum.k=='total'"}],"mark":{"type":"text","style":"let","align":"left","dy":-20.5},"encoding":{"x":{"value":12.7},"y":{"datum":"hdr1","type":"nominal"},"text":{"field":"p"}}},
{"transform":[{"filter":"datum.k=='total'"}],"mark":{"type":"rule","color":"#555","strokeWidth":1.3,"yOffset":5.5},"encoding":{"y":{"datum":"hdr2","type":"nominal"}}},
{"transform":[{"filter":"datum.k=='total'"}],"mark":{"type":"rule","color":"#555","strokeWidth":1.3,"yOffset":5.5},"encoding":{"x":{"datum":0,"type":"quantitative","axis":null},"y":{"datum":"hdr2","type":"nominal"},"y2":{"datum":"axis"}}},
{"transform":[{"filter":"datum.k=='study'"}],"mark":{"type":"rule","color":"#444","strokeWidth":1.3},"encoding":{"x":{"field":"lo","type":"quantitative","scale":{"domain":[-54.3,54.5],"range":[537,835],"nice":false,"zero":false},"axis":{"orient":"bottom","offset":-387.3,"values":[-50,-25,0,25,50],"title":null,"grid":false,"domainColor":"#555","domainWidth":1.3,"tickColor":"#555","tickWidth":1.3,"tickSize":5,"labelFont":"Liberation Sans","labelFontSize":12,"labelColor":"#111","labelPadding":0,"labelExpr":"''+datum.value","labelFlush":false,"labelOverlap":false}},"x2":{"field":"hi"}}},
{"transform":[{"filter":"datum.k=='study'"}],"mark":{"type":"point","shape":"square","filled":true,"color":"#00c000","opacity":1},"encoding":{"x":{"field":"smd","type":"quantitative","axis":{"orient":"bottom","offset":-392.3,"values":[-50,-25,0,25,50],"title":null,"grid":false,"domain":false,"labels":false,"tickColor":"#555","tickWidth":1.3,"tickSize":5}},"size":{"field":"wt","type":"quantitative","legend":null,"scale":{"domain":[0,100],"range":[0,160]}}}},
{"transform":[{"filter":"datum.k=='total'"}],"mark":{"type":"point","shape":"M-1,0L0,-0.53L1,0L0,0.53Z","filled":true,"color":"black","opacity":1,"size":462},"encoding":{"x":{"field":"smd","type":"quantitative","axis":null}}}
]},
{"data":{"name":"rows"},"transform":[{"filter":"datum.p=='F'||datum.k=='head'"}],
"encoding":{"y":{"field":"r","type":"nominal","axis":null,"scale":{"type":"point","padding":0,"range":[1026.8,1149.5],"domain":["hdr1","hdr2","Hung 2016","Xue 2014","Zhang 2017a","Zhao 2018","blank","Total","axis"]}}},
"resolve":{"axis":{"x":"independent"}},
"layer":[
{"mark":{"type":"text","style":"tF","align":"left","fontWeight":{"expr":"datum.k=='study'?'normal':'bold'"}},"encoding":{"x":{"value":13.3},"text":{"field":"s"}}},
{"mark":{"type":"text","style":"tF","fontWeight":{"expr":"datum.k=='study'?'normal':'bold'"}},"encoding":{"x":{"value":165.7},"text":{"field":"em"}}},
{"mark":{"type":"text","style":"tF","fontWeight":{"expr":"datum.k=='study'?'normal':'bold'"}},"encoding":{"x":{"value":204.3},"text":{"field":"esd"}}},
{"mark":{"type":"text","style":"tF","fontWeight":{"expr":"datum.k=='study'?'normal':'bold'"}},"encoding":{"x":{"value":242.7},"text":{"field":"et"}}},
{"mark":{"type":"text","style":"tF","fontWeight":{"expr":"datum.k=='study'?'normal':'bold'"}},"encoding":{"x":{"value":296},"text":{"field":"cm"}}},
{"mark":{"type":"text","style":"tF","fontWeight":{"expr":"datum.k=='study'?'normal':'bold'"}},"encoding":{"x":{"value":324},"text":{"field":"csd"}}},
{"mark":{"type":"text","style":"tF","fontWeight":{"expr":"datum.k=='study'?'normal':'bold'"}},"encoding":{"x":{"value":359.3},"text":{"field":"ct"}}},
{"mark":{"type":"text","style":"tF","fontWeight":{"expr":"datum.k=='study'?'normal':'bold'"}},"encoding":{"x":{"value":407.3},"text":{"field":"w"}}},
{"mark":{"type":"text","style":"tF","fontWeight":{"expr":"datum.k=='study'?'normal':'bold'"}},"encoding":{"x":{"value":531.7},"text":{"field":"ci"}}},
{"transform":[{"filter":"datum.k=='head'"}],"mark":{"type":"text","style":"tF","align":"center","fontWeight":"bold"},"encoding":{"x":{"value":179.7},"y":{"datum":"hdr1","type":"nominal"},"text":{"field":"g1"}}},
{"transform":[{"filter":"datum.k=='head'"}],"mark":{"type":"text","style":"tF","align":"center","fontWeight":"bold"},"encoding":{"x":{"value":301},"y":{"datum":"hdr1","type":"nominal"},"text":{"field":"g2"}}},
{"transform":[{"filter":"datum.k=='head'"}],"mark":{"type":"text","style":"tF","align":"center","fontWeight":"bold"},"encoding":{"x":{"value":470},"y":{"datum":"hdr1","type":"nominal"},"text":{"field":"g3"}}},
{"transform":[{"filter":"datum.k=='head'"}],"mark":{"type":"text","style":"tF","align":"center","fontWeight":"bold"},"encoding":{"x":{"datum":0,"type":"quantitative","axis":null},"y":{"datum":"hdr1","type":"nominal"},"text":{"field":"g3"}}},
{"transform":[{"filter":"datum.k=='head'"}],"mark":{"type":"text","style":"tF","align":"center","fontWeight":"bold"},"encoding":{"x":{"datum":0,"type":"quantitative","axis":null},"y":{"datum":"hdr2","type":"nominal"},"text":{"field":"ci"}}},
{"transform":[{"filter":"datum.k=='head'"}],"mark":{"type":"text","style":"tF","align":"right","dx":-5,"dy":25.5},"encoding":{"x":{"datum":0,"type":"quantitative","axis":null},"y":{"datum":"axis","type":"nominal"},"text":{"field":"fe"}}},
{"transform":[{"filter":"datum.k=='head'"}],"mark":{"type":"text","style":"tF","align":"left","dx":5,"dy":25.5},"encoding":{"x":{"datum":0,"type":"quantitative","axis":null},"y":{"datum":"axis","type":"nominal"},"text":{"field":"fc"}}},
{"transform":[{"filter":"datum.k=='total'"}],"mark":{"type":"text","style":"tF","align":"left","dy":3.2},"encoding":{"x":{"value":13.3},"y":{"datum":"axis","type":"nominal"},"text":{"field":"het"}}},
{"transform":[{"filter":"datum.k=='total'"}],"mark":{"type":"text","style":"tF","align":"left","dy":18.8},"encoding":{"x":{"value":13.3},"y":{"datum":"axis","type":"nominal"},"text":{"field":"test"}}},
{"transform":[{"filter":"datum.k=='total'"}],"mark":{"type":"text","style":"let","align":"left","dy":-21.8},"encoding":{"x":{"value":12.7},"y":{"datum":"hdr1","type":"nominal"},"text":{"field":"p"}}},
{"transform":[{"filter":"datum.k=='total'"}],"mark":{"type":"rule","color":"#555","strokeWidth":1.3,"yOffset":5.5},"encoding":{"y":{"datum":"hdr2","type":"nominal"}}},
{"transform":[{"filter":"datum.k=='total'"}],"mark":{"type":"rule","color":"#555","strokeWidth":1.3,"yOffset":5.5},"encoding":{"x":{"datum":0,"type":"quantitative","axis":null},"y":{"datum":"hdr2","type":"nominal"},"y2":{"datum":"axis"}}},
{"transform":[{"filter":"datum.k=='study'"}],"mark":{"type":"rule","color":"#444","strokeWidth":1.3},"encoding":{"x":{"field":"lo","type":"quantitative","scale":{"domain":[-14.44,14.55],"range":[542.7,835],"nice":false,"zero":false},"axis":{"orient":"bottom","offset":-189.5,"values":[-10,-5,0,5,10],"title":null,"grid":false,"domainColor":"#555","domainWidth":1.3,"tickColor":"#555","tickWidth":1.3,"tickSize":5,"labelFont":"Liberation Sans","labelFontSize":12,"labelColor":"#111","labelPadding":0,"labelExpr":"''+datum.value","labelFlush":false,"labelOverlap":false}},"x2":{"field":"hi"}}},
{"transform":[{"filter":"datum.k=='study'"}],"mark":{"type":"point","shape":"square","filled":true,"color":"#00c000","opacity":1},"encoding":{"x":{"field":"smd","type":"quantitative","axis":{"orient":"bottom","offset":-194.5,"values":[-10,-5,0,5,10],"title":null,"grid":false,"domain":false,"labels":false,"tickColor":"#555","tickWidth":1.3,"tickSize":5}},"size":{"field":"wt","type":"quantitative","legend":null,"scale":{"domain":[0,100],"range":[0,190]}}}},
{"transform":[{"filter":"datum.k=='total'"}],"mark":{"type":"point","shape":"M-1,0L0,-0.57L1,0L0,0.57Z","filled":true,"color":"black","opacity":1,"size":369},"encoding":{"x":{"field":"smd","type":"quantitative","axis":null}}}
]},
{"data":{"name":"rows"},"transform":[{"filter":"datum.p=='G'||datum.k=='head'"}],
"encoding":{"y":{"field":"r","type":"nominal","axis":null,"scale":{"type":"point","padding":0,"range":[1214.3,1305.5],"domain":["hdr1","hdr2","Xue 2014","Zhang 2017a","blank","Total","axis"]}}},
"resolve":{"axis":{"x":"independent"}},
"layer":[
{"mark":{"type":"text","style":"tF","align":"left","fontWeight":{"expr":"datum.k=='study'?'normal':'bold'"}},"encoding":{"x":{"value":13.3},"text":{"field":"s"}}},
{"mark":{"type":"text","style":"tF","fontWeight":{"expr":"datum.k=='study'?'normal':'bold'"}},"encoding":{"x":{"value":165.7},"text":{"field":"em"}}},
{"mark":{"type":"text","style":"tF","fontWeight":{"expr":"datum.k=='study'?'normal':'bold'"}},"encoding":{"x":{"value":198.7},"text":{"field":"esd"}}},
{"mark":{"type":"text","style":"tF","fontWeight":{"expr":"datum.k=='study'?'normal':'bold'"}},"encoding":{"x":{"value":242.7},"text":{"field":"et"}}},
{"mark":{"type":"text","style":"tF","fontWeight":{"expr":"datum.k=='study'?'normal':'bold'"}},"encoding":{"x":{"value":288.3},"text":{"field":"cm"}}},
{"mark":{"type":"text","style":"tF","fontWeight":{"expr":"datum.k=='study'?'normal':'bold'"}},"encoding":{"x":{"value":318.3},"text":{"field":"csd"}}},
{"mark":{"type":"text","style":"tF","fontWeight":{"expr":"datum.k=='study'?'normal':'bold'"}},"encoding":{"x":{"value":359.3},"text":{"field":"ct"}}},
{"mark":{"type":"text","style":"tF","fontWeight":{"expr":"datum.k=='study'?'normal':'bold'"}},"encoding":{"x":{"value":407.3},"text":{"field":"w"}}},
{"mark":{"type":"text","style":"tF","fontWeight":{"expr":"datum.k=='study'?'normal':'bold'"}},"encoding":{"x":{"value":531.7},"text":{"field":"ci"}}},
{"transform":[{"filter":"datum.k=='head'"}],"mark":{"type":"text","style":"tF","align":"center","fontWeight":"bold"},"encoding":{"x":{"value":179.7},"y":{"datum":"hdr1","type":"nominal"},"text":{"field":"g1"}}},
{"transform":[{"filter":"datum.k=='head'"}],"mark":{"type":"text","style":"tF","align":"center","fontWeight":"bold"},"encoding":{"x":{"value":301},"y":{"datum":"hdr1","type":"nominal"},"text":{"field":"g2"}}},
{"transform":[{"filter":"datum.k=='head'"}],"mark":{"type":"text","style":"tF","align":"center","fontWeight":"bold"},"encoding":{"x":{"value":470},"y":{"datum":"hdr1","type":"nominal"},"text":{"field":"g3"}}},
{"transform":[{"filter":"datum.k=='head'"}],"mark":{"type":"text","style":"tF","align":"center","fontWeight":"bold"},"encoding":{"x":{"datum":0,"type":"quantitative","axis":null},"y":{"datum":"hdr1","type":"nominal"},"text":{"field":"g3"}}},
{"transform":[{"filter":"datum.k=='head'"}],"mark":{"type":"text","style":"tF","align":"center","fontWeight":"bold"},"encoding":{"x":{"datum":0,"type":"quantitative","axis":null},"y":{"datum":"hdr2","type":"nominal"},"text":{"field":"ci"}}},
{"transform":[{"filter":"datum.k=='head'"}],"mark":{"type":"text","style":"tF","align":"right","dx":-5,"dy":25.5},"encoding":{"x":{"datum":0,"type":"quantitative","axis":null},"y":{"datum":"axis","type":"nominal"},"text":{"field":"fe"}}},
{"transform":[{"filter":"datum.k=='head'"}],"mark":{"type":"text","style":"tF","align":"left","dx":5,"dy":25.5},"encoding":{"x":{"datum":0,"type":"quantitative","axis":null},"y":{"datum":"axis","type":"nominal"},"text":{"field":"fc"}}},
{"transform":[{"filter":"datum.k=='total'"}],"mark":{"type":"text","style":"tF","align":"left","dy":3.3},"encoding":{"x":{"value":13.3},"y":{"datum":"axis","type":"nominal"},"text":{"field":"het"}}},
{"transform":[{"filter":"datum.k=='total'"}],"mark":{"type":"text","style":"tF","align":"left","dy":18.3},"encoding":{"x":{"value":13.3},"y":{"datum":"axis","type":"nominal"},"text":{"field":"test"}}},
{"transform":[{"filter":"datum.k=='total'"}],"mark":{"type":"text","style":"let","align":"left","dy":-24.3},"encoding":{"x":{"value":12.7},"y":{"datum":"hdr1","type":"nominal"},"text":{"field":"p"}}},
{"transform":[{"filter":"datum.k=='total'"}],"mark":{"type":"rule","color":"#555","strokeWidth":1.3,"yOffset":5.5},"encoding":{"y":{"datum":"hdr2","type":"nominal"}}},
{"transform":[{"filter":"datum.k=='total'"}],"mark":{"type":"rule","color":"#555","strokeWidth":1.3,"yOffset":5.5},"encoding":{"x":{"datum":0,"type":"quantitative","axis":null},"y":{"datum":"hdr2","type":"nominal"},"y2":{"datum":"axis"}}},
{"transform":[{"filter":"datum.k=='study'"}],"mark":{"type":"rule","color":"#444","strokeWidth":1.3},"encoding":{"x":{"field":"lo","type":"quantitative","scale":{"domain":[-24.4,24.4],"range":[540.2,836.4],"nice":false,"zero":false},"axis":{"orient":"bottom","offset":-33.5,"values":[-20,-10,0,10,20],"title":null,"grid":false,"domainColor":"#555","domainWidth":1.3,"tickColor":"#555","tickWidth":1.3,"tickSize":5,"labelFont":"Liberation Sans","labelFontSize":12,"labelColor":"#111","labelPadding":0,"labelExpr":"''+datum.value","labelFlush":false,"labelOverlap":false}},"x2":{"field":"hi"}}},
{"transform":[{"filter":"datum.k=='study'"}],"mark":{"type":"point","shape":"square","filled":true,"color":"#00c000","opacity":1},"encoding":{"x":{"field":"smd","type":"quantitative","axis":{"orient":"bottom","offset":-38.5,"values":[-20,-10,0,10,20],"title":null,"grid":false,"domain":false,"labels":false,"tickColor":"#555","tickWidth":1.3,"tickSize":5}},"size":{"field":"wt","type":"quantitative","legend":null,"scale":{"domain":[0,100],"range":[0,220]}}}},
{"transform":[{"filter":"datum.k=='total'"}],"mark":{"type":"point","shape":"M-1,0L0,-0.63L1,0L0,0.63Z","filled":true,"color":"black","opacity":1,"size":306},"encoding":{"x":{"field":"smd","type":"quantitative","axis":null}}}
]}
],
"resolve":{"scale":{"x":"independent","y":"independent","size":"independent"},"axis":{"x":"independent","y":"independent"}}
}
